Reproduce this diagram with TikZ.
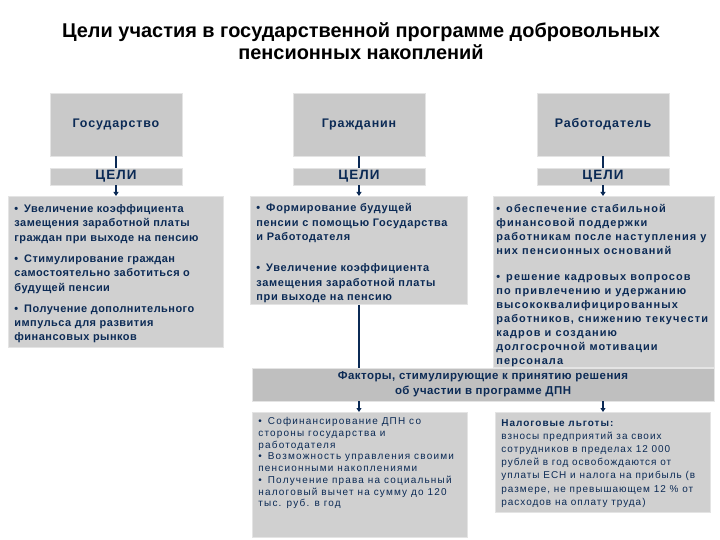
\documentclass[tikz,border=0pt]{standalone}
\usepackage{fontspec}
\setmainfont{Liberation Sans}
\usetikzlibrary{arrows.meta}
\definecolor{navy}{HTML}{0B2A55}
\definecolor{boxg}{HTML}{D0D0D0}
\definecolor{topg}{HTML}{C9C9C9}
\definecolor{facg}{HTML}{BFBFBF}
\definecolor{edgeg}{HTML}{E4E4E4}
\newcommand{\bul}{\textbullet\hspace{6bp}}
\newcommand{\lsp}[1]{\addfontfeatures{LetterSpace=#1}}
\begin{document}
\begin{tikzpicture}[x=1bp,y=-1bp,
  topbox/.style={fill=topg, draw=edgeg, line width=0.8bp, minimum width=132bp, minimum height=63bp, inner sep=0pt,
     font=\fontsize{12.5}{14}\selectfont\bfseries\lsp{7}, text=navy},
  celibox/.style={fill=topg, draw=edgeg, line width=0.8bp, minimum width=132bp, minimum height=17bp, inner sep=0pt,
     font=\fontsize{13.5}{14}\selectfont\bfseries\lsp{8}, text=navy},
  goalbox/.style={fill=boxg, draw=edgeg, line width=0.8bp, anchor=north west, inner xsep=6bp, inner ysep=4bp,
     font=\fontsize{11}{14.5}\selectfont\bfseries, text=navy},
  facbox/.style={fill=facg, draw=edgeg, line width=0.8bp, minimum width=462bp, minimum height=33bp, inner sep=0pt,
     align=center, font=\fontsize{11.5}{15}\selectfont\bfseries\lsp{4}, text=navy},
  botbox/.style={fill=boxg, draw=edgeg, line width=0.8bp, anchor=north west, inner xsep=6bp, inner ysep=4bp,
     font=\fontsize{10}{11.8}\selectfont\lsp{12}, text=navy},
  conn/.style={draw=navy, line width=1.6bp},
  arr/.style={conn, -{Triangle[width=5bp,length=4bp]}},
  title/.style={align=center, font=\fontsize{20}{22.5}\selectfont\bfseries, text=black}
]
\useasboundingbox (0,0) rectangle (720,540);
\fill[white] (0,0) rectangle (720,540);

\node[title] (title) at (361,41) {Цели участия в государственной программе добровольных\\пенсионных накоплений};

% top boxes
\node[topbox] (gos) at (116,124.5) {\raisebox{-2.5bp}{Государство}};
\node[topbox] (grazh) at (359,124.5) {\raisebox{-2.5bp}{Гражданин}};
\node[topbox] (rab) at (603,124.5) {\raisebox{-2.5bp}{Работодатель}};

\node[celibox] (c1) at (116,176.5) {ЦЕЛИ};
\node[celibox] (c2) at (359,176.5) {ЦЕЛИ};
\node[celibox] (c3) at (603,176.5) {ЦЕЛИ};

% goal boxes
\node[goalbox] (g1) at (8,196) {\parbox[t][143bp][t]{203bp}{\lsp{4.5}\vspace{4bp}%
\bul Увеличение коэффициента\\замещения заработной платы\\граждан при выходе на пенсию\par\vspace{6.5bp}
\bul Стимулирование граждан\\самостоятельно заботиться о\\будущей пенсии\par\vspace{6.5bp}
\bul Получение дополнительного\\импульса для развития\\финансовых рынков}};

\node[goalbox] (g2) at (250,196) {\parbox[t][100bp][t]{205bp}{\lsp{6}\vspace{3bp}%
\bul Формирование будущей\\пенсии с помощью Государства\\и Работодателя\par\vspace{17bp}
\bul Увеличение коэффициента\\замещения заработной платы\\при выходе на пенсию}};

\node[goalbox, font=\fontsize{11}{14}\selectfont\bfseries, inner xsep=3bp] (g3) at (493,196) {\parbox[t][163bp][t]{215bp}{\lsp{10}\vspace{4bp}%
\bul обеспечение стабильной\\финансовой поддержки\\работникам после наступления у\\них пенсионных оснований\par\vspace{12bp}
\bul решение кадровых вопросов\\по привлечению и удержанию\\высококвалифицированных\\работников, снижению текучести\\кадров и созданию\\долгосрочной мотивации\\персонала}};

% factors
\node[facbox] (fac) at (483,384.5) {Факторы, стимулирующие к принятию решения\\об участии в программе ДПН};

% bottom boxes
\node[botbox] (b1) at (252,412) {\parbox[t][117bp][t]{203bp}{\vspace{1bp}%
\bul Софинансирование ДПН со\\стороны государства и\\работодателя\\
\bul Возможность управления своими\\пенсионными накоплениями\\
\bul Получение права на социальный\\налоговый вычет на сумму до 120\\тыс. руб. в год}};

\node[botbox, font=\fontsize{10}{13.2}\selectfont\lsp{10}] (b2) at (495,412) {\parbox[t][92bp][t]{203bp}{\vspace{3bp}%
\textbf{Налоговые льготы:}\\взносы предприятий за своих\\сотрудников в пределах 12 000\\рублей в год освобождаются от\\уплаты ЕСН и налога на прибыль (в\\размере, не превышающем 12 \% от\\расходов на оплату труда)}};

% connectors
\foreach \t/\c in {gos/c1, grazh/c2, rab/c3}{
  \draw[conn] (\t.south) -- (\c.north);
}
\draw[arr] (c1.south) -- (c1.south |- g1.north);
\draw[arr] (c2.south) -- (c2.south |- g2.north);
\draw[arr] (c3.south) -- (c3.south |- g3.north);
\draw[conn] (c2.south |- g2.south) -- (c2.south |- fac.north);
\draw[arr] (fac.south -| c2.south) -- (c2.south |- b1.north);
\draw[arr] (fac.south -| c3.south) -- (c3.south |- b2.north);
\end{tikzpicture}
\end{document}
